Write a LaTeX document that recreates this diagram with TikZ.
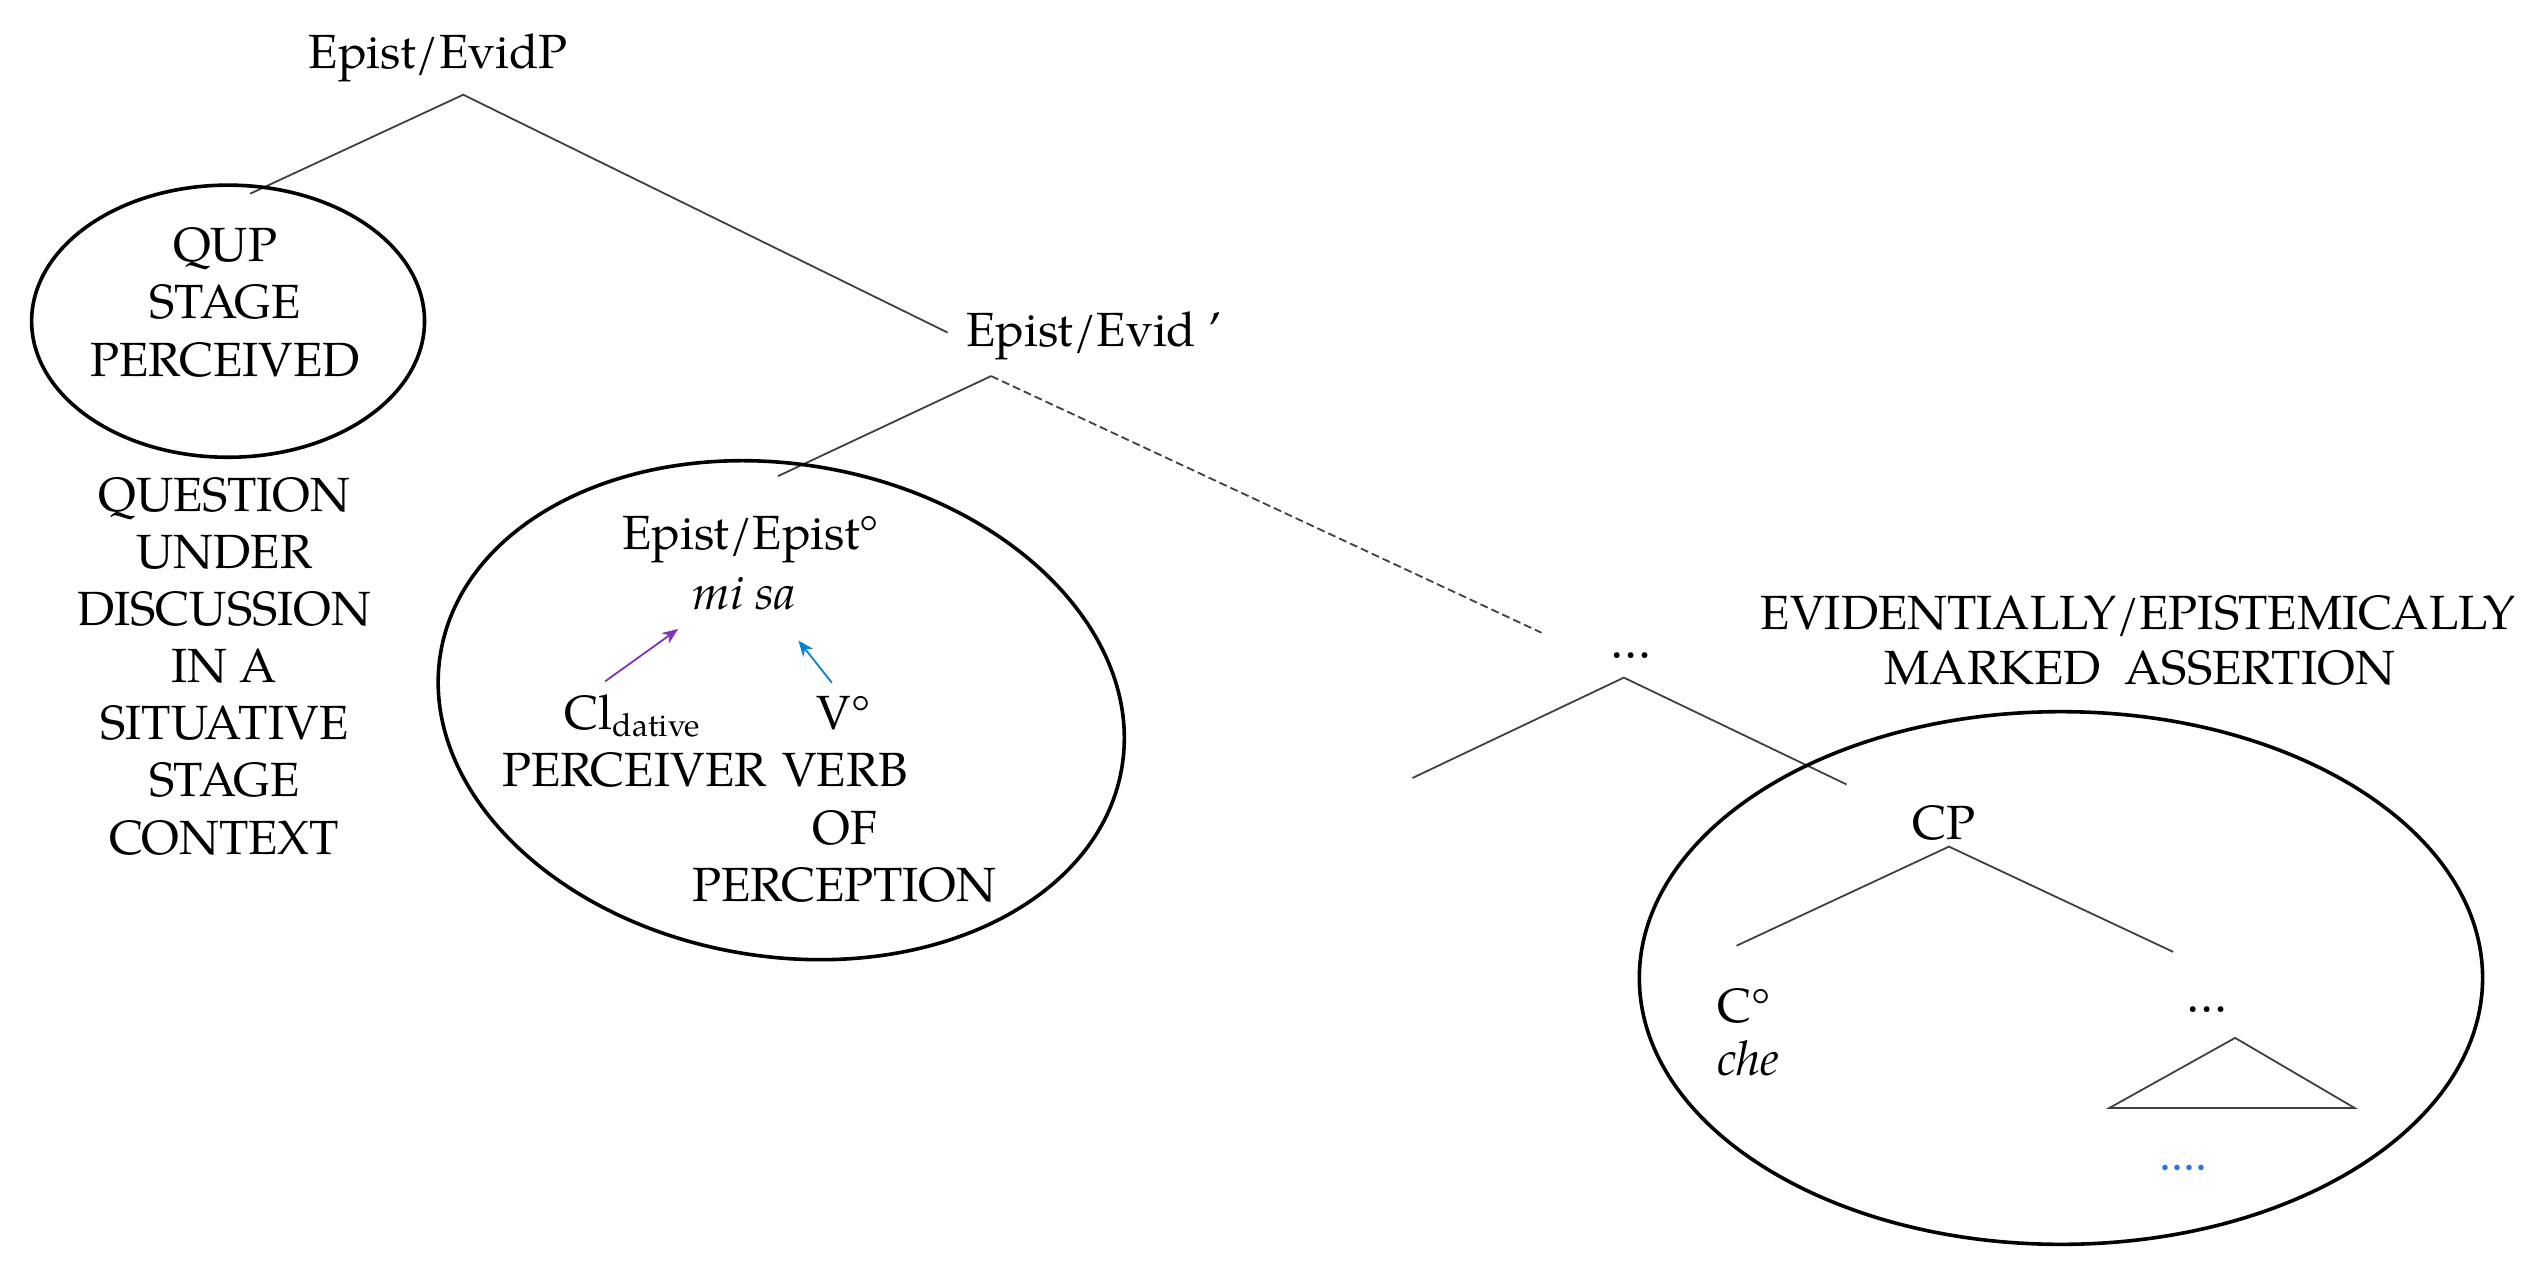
\documentclass[tikz,border=0pt]{standalone}
\usepackage{fontspec}
\setmainfont{texgyrepagella-regular.otf}[ItalicFont=texgyrepagella-italic.otf,BoldFont=texgyrepagella-bold.otf]
\usetikzlibrary{arrows.meta}
\definecolor{arrpurple}{RGB}{128,52,184}
\definecolor{arrblue}{RGB}{16,128,208}
\definecolor{dotblue}{RGB}{40,120,220}
\begin{document}
\begin{tikzpicture}[x=0.40355pt,y=-0.40355pt,
  lbl/.style={inner sep=0pt,font=\fontsize{12}{14.3}\selectfont},
  tree/.style={draw=black!75,line width=0.45pt},
  dashtree/.style={tree,dash pattern=on 2pt off 1pt},
  bubble/.style={draw=black,line width=0.9pt},
  parrow/.style={draw=arrpurple,line width=0.45pt,-{Stealth[length=4pt,width=3.2pt]}},
  barrow/.style={draw=arrblue,line width=0.45pt,-{Stealth[length=4pt,width=3.2pt]}}]
\useasboundingbox (0,0) rectangle (1568,791);

% top projection
\node[lbl,anchor=base] (evidp) at (271.5,42.5) {Epist/EvidP};
\coordinate (a1) at (287,58.7);
\coordinate (a1l) at (155,120);
\coordinate (a1r) at (587,206);
\draw[tree] (a1l) -- (a1) -- (a1r);

% left ellipse
\coordinate (e1) at (141.3,199);
\draw[bubble] (e1) ellipse [x radius=121.7,y radius=84.3];
\node[lbl,anchor=north,align=center] (qup) at (139.5,140.5) {QUP\\STAGE\\PERCEIVED};
\node[lbl,anchor=north,align=center] (qud) at (139,295) {QUESTION\\UNDER\\DISCUSSION\\IN A\\SITUATIVE\\STAGE\\CONTEXT};

% Epist/Evid bar
\node[lbl,anchor=base west] (evidbar) at (598,214.8) {Epist/Evid ’};
\coordinate (a2) at (614,233);
\coordinate (a2l) at (482,295);
\coordinate (a2r) at (955,392);
\draw[tree] (a2l) -- (a2);
\draw[dashtree] (a2) -- (a2r);

% middle ellipse
\coordinate (e2) at (484,440);
\draw[bubble,rotate around={-9.6:(e2)}] (e2) ellipse [x radius=214,y radius=152.5];
\node[lbl,anchor=base] (epist) at (465,340.5) {Epist/Epist°};
\node[lbl,anchor=base] (misa) at (461,377.5) {\textit{mi sa}};
\node[lbl,anchor=base] (cl) at (392.5,451.8) {Cl\textsubscript{dative}};
\node[lbl,anchor=base] (perceiver) at (393,487.3) {PERCEIVER};
\node[lbl,anchor=base] (vdeg) at (522.5,451.8) {V°};
\node[lbl,anchor=base] (verb) at (523.5,487.3) {VERB};
\node[lbl,anchor=base] (of) at (523.4,522.9) {OF};
\node[lbl,anchor=base] (perception) at (523.2,558.5) {PERCEPTION};
\coordinate (pt) at (374.9,422.1);
\coordinate (ph) at (420.1,389.7);
\coordinate (bt) at (515.4,423);
\coordinate (bh) at (494.6,396.8);
\draw[parrow] (pt) -- (ph);
\draw[barrow] (bt) -- (bh);

% lower right
\node[lbl,anchor=base] (dots1) at (1010.6,408) {…};
\coordinate (a3) at (1006,419.8);
\coordinate (a3l) at (875,482);
\coordinate (a3r) at (1144,486);
\draw[tree] (a3l) -- (a3) -- (a3r);
\node[lbl,anchor=base] (evid1) at (1324.5,389.8) {EVIDENTIALLY/EPISTEMICALLY};
\node[lbl,anchor=base] (evid2) at (1325.6,424.3) {MARKED\ \ ASSERTION};

\coordinate (e3) at (1276.8,605.9);
\draw[bubble] (e3) ellipse [x radius=261.2,y radius=165];
\node[lbl,anchor=base] (cp) at (1204.4,520.3) {CP};
\coordinate (a4) at (1207.4,524.5);
\coordinate (a4l) at (1075.8,585.9);
\coordinate (a4r) at (1346.3,589.7);
\draw[tree] (a4l) -- (a4) -- (a4r);
\node[lbl,anchor=base west] (cdeg) at (1063.6,633.3) {C°};
\node[lbl,anchor=base west] (che) at (1063.6,666.6) {\textit{che}};
\node[lbl,anchor=base] (dots2) at (1367.5,627.5) {…};
\coordinate (t1) at (1384.7,643);
\coordinate (t2) at (1306.8,686.4);
\coordinate (t3) at (1458.7,686.4);
\draw[tree] (t2) -- (t1) -- (t3) -- cycle;
\node[lbl,anchor=base,text=dotblue] (bdots) at (1352.6,725) {....};
\end{tikzpicture}
\end{document}
